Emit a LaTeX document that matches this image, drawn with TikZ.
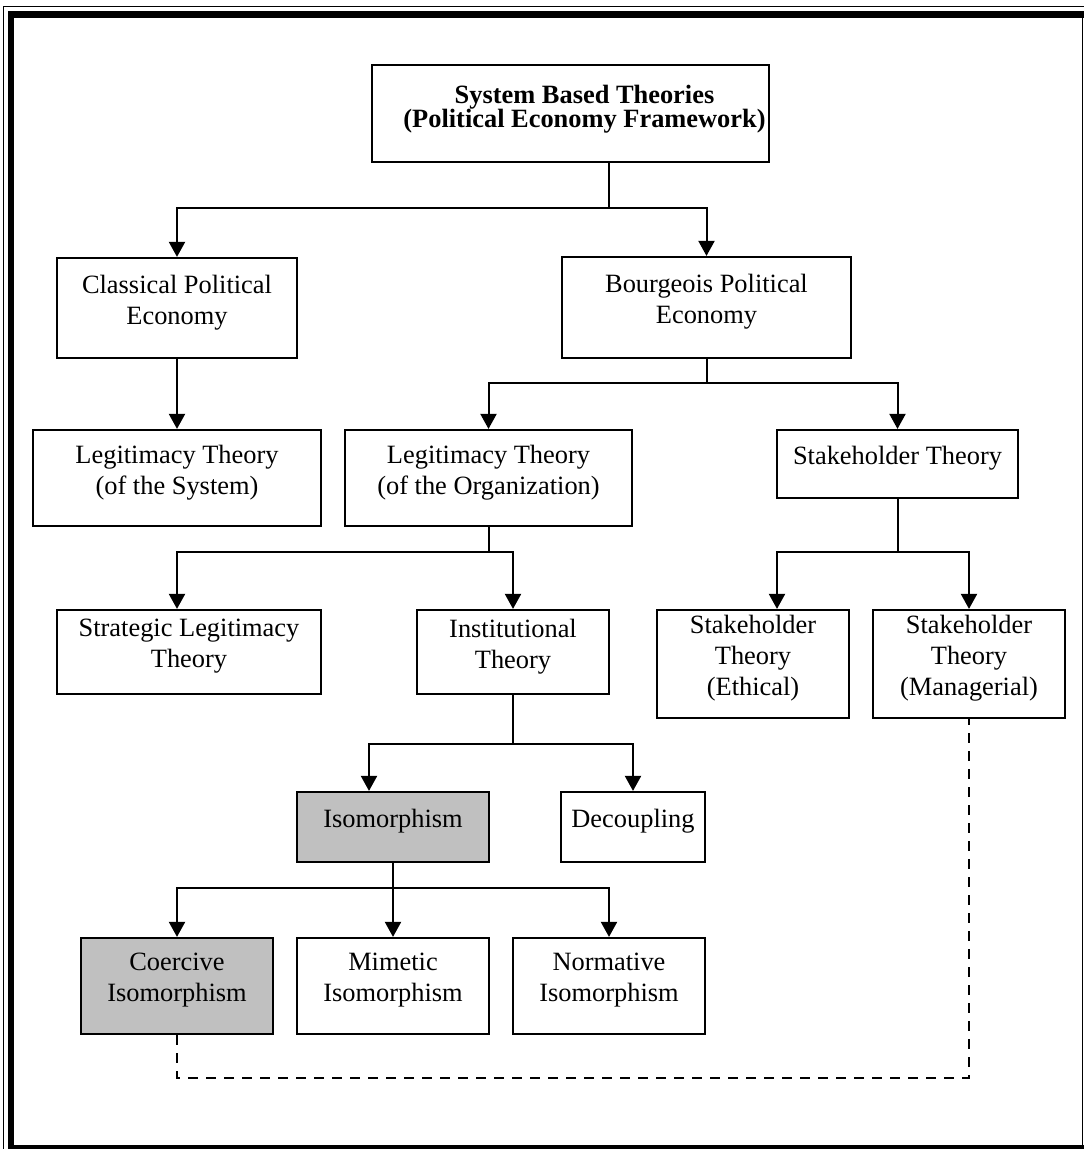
\documentclass[tikz,border=0pt]{standalone}
\usepackage{fontspec}
\setmainfont{Liberation Serif}
\usetikzlibrary{arrows.meta}
\definecolor{boxgray}{RGB}{192,192,192}
\newcommand\mkbox[7]{%
  \node[#2,minimum width=#5pt,minimum height=#6pt] (#1) at (#3,#4) {};
  \node[txt,yshift=5.5pt] at (#1.center) {#7};}
\begin{document}
\begin{tikzpicture}[x=1pt,y=-1pt,
  box/.style={draw=black,line width=2.2pt,rectangle,inner sep=0pt,fill=white},
  graybox/.style={box,fill=boxgray},
  txt/.style={align=center,font=\fontsize{26.4}{31}\selectfont,inner sep=0pt},
  conn/.style={line width=2pt},
  arr/.style={conn,-{Triangle[width=16pt,length=15pt]}},
  dconn/.style={line width=2pt,dash pattern=on 10pt off 8pt}]
\useasboundingbox (0,0) rectangle (1084,1149);
% frame
\draw[line width=1.4pt] (3.5,1149) -- (3.5,6.5) -- (1084,6.5);
\draw[line width=6.5pt] (11,1149) -- (11,14.5) -- (1084,14.5);
\draw[line width=7pt] (8,1148.5) -- (1084,1148.5);
\draw[line width=1.2pt] (1082.5,18) -- (1082.5,1145);
% boxes
\node[box,minimum width=397pt,minimum height=97pt] (top) at (570.5,113.5) {};
\node[txt,font=\fontsize{26.4}{24.5}\selectfont\bfseries,xshift=14pt,yshift=4.5pt] at (top.center)
  {System Based Theories\\(Political Economy Framework)};
\mkbox{classical}{box}{177}{308}{240}{100}{Classical Political\\Economy}
\mkbox{bourgeois}{box}{706.5}{307.5}{289}{101}{Bourgeois Political\\Economy}
\mkbox{legsys}{box}{177}{478}{288}{96}{Legitimacy Theory\\(of the System)}
\mkbox{legorg}{box}{488.5}{478}{287}{96}{Legitimacy Theory\\(of the Organization)}
\mkbox{stake}{box}{897.5}{464}{241}{68}{Stakeholder Theory}
\mkbox{strategic}{box}{189}{652}{264}{84}{Strategic Legitimacy\\Theory}
\mkbox{inst}{box}{513}{652}{192}{84}{Institutional\\Theory}
\mkbox{ethical}{box}{753}{664}{192}{108}{Stakeholder\\Theory\\(Ethical)}
\mkbox{manag}{box}{969}{664}{192}{108}{Stakeholder\\Theory\\(Managerial)}
\mkbox{iso}{graybox}{393}{827}{192}{70}{Isomorphism}
\mkbox{decoup}{box}{633}{827}{144}{70}{Decoupling}
\mkbox{coercive}{graybox}{177}{986}{192}{96}{Coercive\\Isomorphism}
\mkbox{mimetic}{box}{393}{986}{192}{96}{Mimetic\\Isomorphism}
\mkbox{normative}{box}{609}{986}{192}{96}{Normative\\Isomorphism}
% junctions
\coordinate (j1) at (609,208);
\coordinate (j2) at (706.5,383);
\coordinate (j3) at (488.5,552);
\coordinate (j4) at (897.5,552);
\coordinate (j5) at (513,744);
\coordinate (j6) at (393,888);
\coordinate (dj) at (500,1078);
% connectors
\draw[conn] (top.south -| j1) -- (j1);
\draw[arr] (j1) -| (classical.north);
\draw[arr] (j1) -| (bourgeois.north);
\draw[arr] (classical.south) -- (legsys.north);
\draw[conn] (bourgeois.south) -- (j2);
\draw[arr] (j2) -| (legorg.north);
\draw[arr] (j2) -| (stake.north);
\draw[conn] (legorg.south) -- (j3);
\draw[arr] (j3) -| ([xshift=-12pt]strategic.north);
\draw[arr] (j3) -| (inst.north);
\draw[conn] (stake.south) -- (j4);
\draw[arr] (j4) -| ([xshift=24pt]ethical.north);
\draw[arr] (j4) -| (manag.north);
\draw[conn] (inst.south) -- (j5);
\draw[arr] (j5) -| ([xshift=-24pt]iso.north);
\draw[arr] (j5) -| (decoup.north);
\draw[conn] (iso.south) -- (j6);
\draw[arr] (j6) -| (coercive.north);
\draw[arr] (j6) -- (mimetic.north);
\draw[arr] (j6) -| (normative.north);
\draw[dconn] (coercive.south) -- (coercive.south |- dj) -| (manag.south);
\end{tikzpicture}
\end{document}
